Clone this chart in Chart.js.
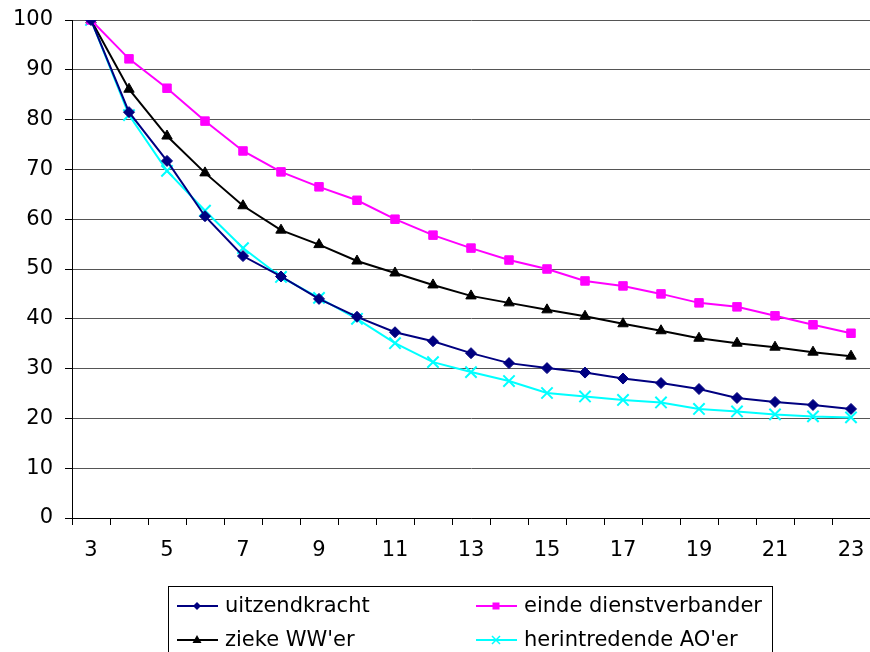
<!DOCTYPE html>
<html>
<head>
<meta charset="utf-8">
<script src="https://cdn.jsdelivr.net/npm/chart.js@4.4.1/dist/chart.umd.min.js"></script>
<style>
  body { margin: 0; background: #fff; }
  canvas { display: block; }
</style>
</head>
<body>
<canvas id="chart" width="870" height="652"></canvas>
<script>
const categories = ["3", "4", "5", "6", "7", "8", "9", "10", "11", "12", "13",
                    "14", "15", "16", "17", "18", "19", "20", "21", "22", "23"];

const uitzendkracht = [100, 81.5, 71.7, 60.6, 52.6, 48.5, 44.0, 40.4, 37.3, 35.5, 33.1,
                       31.1, 30.1, 29.2, 28.0, 27.1, 25.9, 24.1, 23.3, 22.7, 21.9];
const eindeDienstverband = [100, 92.2, 86.3, 79.7, 73.7, 69.5, 66.5, 63.8, 60.0, 56.8, 54.2,
                            51.8, 50.0, 47.6, 46.6, 45.0, 43.2, 42.4, 40.6, 38.8, 37.1];
const ziekeWW = [100, 86.1, 76.7, 69.3, 62.7, 57.8, 54.9, 51.6, 49.2, 46.8, 44.6,
                 43.2, 41.8, 40.5, 39.0, 37.6, 36.1, 35.1, 34.3, 33.3, 32.5];
const herintredendeAO = [100, 80.9, 69.7, 61.7, 54.2, 48.4, 44.2, 40.0, 35.1, 31.3, 29.3,
                         27.5, 25.1, 24.4, 23.7, 23.2, 21.9, 21.4, 20.8, 20.4, 20.2];

const FONT = "'DejaVu Sans', Verdana, sans-serif";

// legend box drawn in two columns like the original
const boxLegend = {
  id: "boxLegend",
  afterDraw(chart) {
    const ctx = chart.ctx;
    ctx.save();
    ctx.strokeStyle = "#000";
    ctx.lineWidth = 1;
    ctx.strokeRect(168.5, 586.5, 604, 100);

    const cols = [177, 476];
    const rows = [606, 640];
    ctx.font = "21px " + FONT;
    ctx.textBaseline = "middle";
    chart.data.datasets.forEach((ds, i) => {
      const x = cols[i % 2];
      const y = rows[Math.floor(i / 2)];
      ctx.strokeStyle = ds.borderColor;
      ctx.lineWidth = 2;
      ctx.beginPath();
      ctx.moveTo(x, y);
      ctx.lineTo(x + 41, y);
      ctx.stroke();

      const cx = x + 20;
      ctx.fillStyle = ds.borderColor;
      ctx.beginPath();
      if (ds.pointStyle === "rectRot") {
        ctx.moveTo(cx, y - 4); ctx.lineTo(cx + 4, y); ctx.lineTo(cx, y + 4); ctx.lineTo(cx - 4, y);
        ctx.closePath(); ctx.fill();
      } else if (ds.pointStyle === "rect") {
        ctx.fillRect(cx - 3.5, y - 3.5, 7, 7);
      } else if (ds.pointStyle === "triangle") {
        ctx.moveTo(cx, y - 5); ctx.lineTo(cx + 4.5, y + 3); ctx.lineTo(cx - 4.5, y + 3);
        ctx.closePath(); ctx.fill();
      } else {
        ctx.lineWidth = 1.5;
        ctx.moveTo(cx - 4, y - 4); ctx.lineTo(cx + 4, y + 4);
        ctx.moveTo(cx + 4, y - 4); ctx.lineTo(cx - 4, y + 4);
        ctx.stroke();
      }

      ctx.fillStyle = "#000";
      ctx.fillText(ds.label, x + 48, y + 1);
    });
    ctx.restore();
  }
};

new Chart(document.getElementById("chart"), {
  type: "line",
  data: {
    labels: categories,
    datasets: [
      {
        label: "uitzendkracht",
        data: uitzendkracht,
        borderColor: "#000080",
        backgroundColor: "#000080",
        pointStyle: "rectRot",
        pointRadius: 5.5,
        borderWidth: 2,
        pointBorderWidth: 1
      },
      {
        label: "einde dienstverbander",
        data: eindeDienstverband,
        borderColor: "#ff00ff",
        backgroundColor: "#ff00ff",
        pointStyle: "rect",
        pointRadius: 6,
        borderWidth: 2,
        pointBorderWidth: 1
      },
      {
        label: "zieke WW'er",
        data: ziekeWW,
        borderColor: "#000000",
        backgroundColor: "#000000",
        pointStyle: "triangle",
        pointRadius: 6,
        borderWidth: 2,
        pointBorderWidth: 1
      },
      {
        label: "herintredende AO'er",
        data: herintredendeAO,
        borderColor: "#00ffff",
        backgroundColor: "#00ffff",
        pointStyle: "crossRot",
        pointRadius: 8,
        borderWidth: 2,
        pointBorderWidth: 2
      }
    ]
  },
  options: {
    responsive: false,
    animation: false,
    layout: { autoPadding: false, padding: { top: 20, left: 0, right: 0, bottom: 0 } },
    plugins: {
      legend: { display: false },
      tooltip: { enabled: false }
    },
    elements: { line: { tension: 0 } },
    scales: {
      x: {
        offset: true,
        grid: {
          offset: true,
          drawOnChartArea: false,
          drawTicks: true,
          tickLength: 7,
          tickColor: "#000"
        },
        border: { color: "#000", width: 1 },
        ticks: {
          autoSkip: false,
          maxRotation: 0,
          padding: 13,
          color: "#000",
          font: { family: FONT, size: 21 },
          callback: function (value, index) {
            return index % 2 === 0 ? this.getLabelForValue(value) : "";
          }
        },
        afterFit(scale) {
          scale.height = 134;
          scale.paddingLeft = 0;
          scale.paddingRight = 0;
        }
      },
      y: {
        min: 0,
        max: 100,
        grid: {
          color: "#555",
          tickLength: 7,
          tickColor: "#000"
        },
        border: { color: "#000", width: 1 },
        ticks: {
          stepSize: 10,
          padding: 12,
          color: "#000",
          font: { family: FONT, size: 21 }
        },
        afterFit(scale) {
          scale.width = 72;
          scale.paddingTop = 0;
          scale.paddingBottom = 0;
        }
      }
    }
  },
  plugins: [boxLegend]
});
</script>
</body>
</html>
